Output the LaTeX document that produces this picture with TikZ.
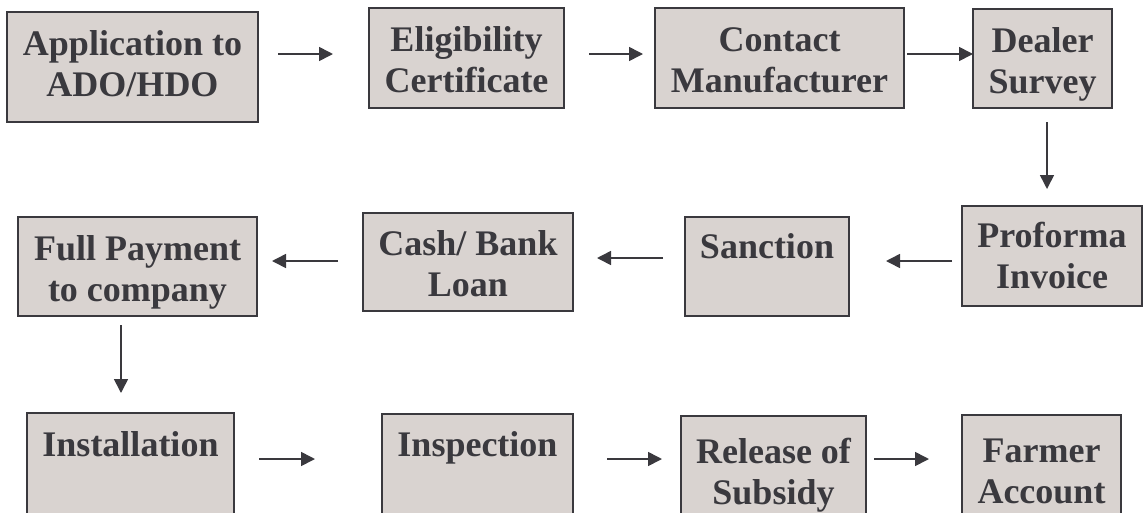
\documentclass[tikz,border=0pt]{standalone}
\usepackage{fontspec}
\setmainfont{Liberation Serif}
\usetikzlibrary{arrows.meta}
\definecolor{boxfill}{HTML}{D9D3D0}
\definecolor{ink}{HTML}{3A393E}
\tikzset{
  flowbox/.style={draw=ink, line width=1.6pt, fill=boxfill, inner sep=0pt, outer sep=0pt, anchor=north west},
  lbl/.style={text=ink, font=\fontsize{36}{41}\selectfont\bfseries, align=center, inner sep=0pt},
  flow/.style={draw=ink, line width=1.6pt, -{Triangle[length=14pt,width=14pt]}},
}
% \procbox{name}{left}{top}{right}{bottom}
\newcommand\procbox[5]{\node[flowbox, minimum width={(#4-#2)*1pt}, minimum height={(#5-#3)*1pt}] (#1) at (#2,#3) {};}
\begin{document}
\begin{tikzpicture}[x=1pt, y=-1pt]
\useasboundingbox (0,0) rectangle (1143,512);

% first row
\procbox{app}{7}{12}{258}{122}
\procbox{elig}{369}{8}{564}{108}
\procbox{contact}{655}{8}{904}{108}
\procbox{dealer}{973}{9}{1112}{108}
% second row
\procbox{proforma}{962}{206}{1142}{306}
\procbox{sanction}{685}{217}{849}{316}
\procbox{cash}{363}{213}{573}{311}
\procbox{full}{18}{217}{257}{316}
% third row
\procbox{install}{27}{413}{234}{540}
\procbox{inspect}{382}{414}{573}{540}
\procbox{release}{681}{416}{866}{540}
\procbox{farmer}{962}{415}{1121}{540}

% box texts
\node[lbl] (app-t) at (132.5,63.6) {Application to\\ADO/HDO};
\node[lbl] (elig-t) at (466.5,59.6) {Eligibility\\Certificate};
\node[lbl] (contact-t) at (779.5,60.6) {Contact\\Manufacturer};
\node[lbl] (dealer-t) at (1042.5,64.3) {Dealer\\Survey};
\node[lbl] (proforma-t) at (1052,255.6) {Proforma\\Invoice};
\node[lbl] (sanction-t) at (767,246.1) {Sanction};
\node[lbl] (cash-t) at (468,263.6) {Cash/ Bank\\Loan};
\node[lbl] (full-t) at (137.5,272.3) {Full Payment\\to company};
\node[lbl] (install-t) at (130.5,444.1) {Installation};
\node[lbl] (inspect-t) at (477.5,447.8) {Inspection};
\node[lbl] (release-t) at (773.5,475.3) {Release of\\Subsidy};
\node[lbl] (farmer-t) at (1041.5,471.6) {Farmer\\Account};

% connectors
\draw[flow, shorten <=20pt, shorten >=36pt] (app.east |- 0,54) -- (elig.west |- 0,54);
\draw[flow, shorten <=25pt, shorten >=12pt] (elig.east |- 0,54) -- (contact.west |- 0,54);
\draw[flow, shorten <=3pt] (contact.east |- 0,54) -- (dealer.west |- 0,54);
\draw[flow, shorten <=14pt, shorten >=17pt] (dealer.south -| 1047,0) -- (proforma.north -| 1047,0);
\draw[flow, shorten <=10pt, shorten >=37pt] (proforma.west |- 0,261) -- (sanction.east |- 0,261);
\draw[flow, shorten <=22pt, shorten >=24pt] (sanction.west |- 0,258) -- (cash.east |- 0,258);
\draw[flow, shorten <=25pt, shorten >=15pt] (cash.west |- 0,261) -- (full.east |- 0,261);
\draw[flow, shorten <=9pt, shorten >=20pt] (full.south -| 121,0) -- (install.north -| 121,0);
\draw[flow, shorten <=25pt, shorten >=67pt] (install.east |- 0,459) -- (inspect.west |- 0,459);
\draw[flow, shorten <=34pt, shorten >=19pt] (inspect.east |- 0,459) -- (release.west |- 0,459);
\draw[flow, shorten <=8pt, shorten >=33pt] (release.east |- 0,459) -- (farmer.west |- 0,459);
\end{tikzpicture}
\end{document}
